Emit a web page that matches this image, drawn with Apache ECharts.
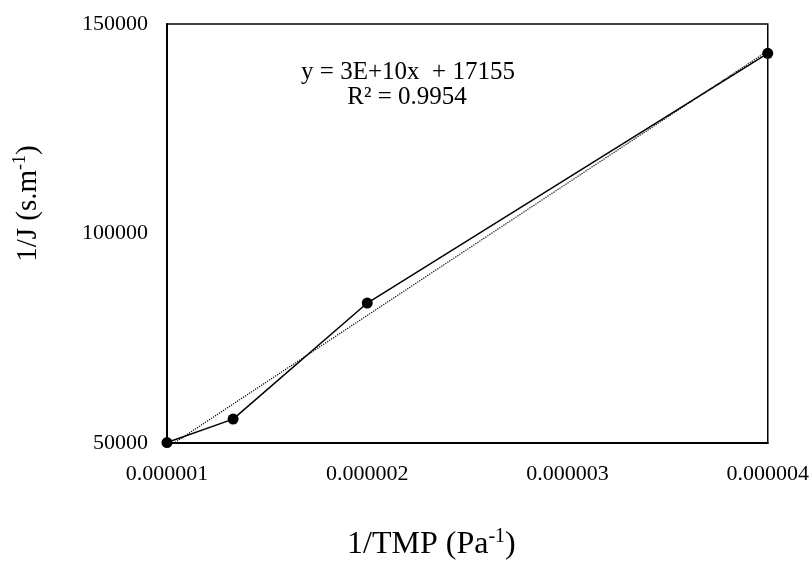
<!DOCTYPE html>
<html>
<head>
<meta charset="utf-8">
<script src="https://cdn.jsdelivr.net/npm/echarts@6/dist/echarts.min.js"></script>
<style>
  html, body { margin: 0; padding: 0; background: #fff; }
  #main { width: 812px; height: 566px; }
</style>
</head>
<body>
<div id="main"></div>
<script>
// measured points: 1/TMP (Pa^-1) vs 1/J (s.m^-1)
var invTMP = [0.000001, 0.00000133, 0.000002, 0.000004];
var invJ = [50100, 55700, 83400, 143000];
var xTicks = [0.000001, 0.000002, 0.000003, 0.000004];
var yTicks = [50000, 100000, 150000];
var eqLine = 'y = 3E+10x  + 17155';
var r2Line = 'R² = 0.9954';

var serif = '"Liberation Serif", "Times New Roman", serif';

// linear trendline (least squares) over the points
var n = invTMP.length, mx = 0, my = 0;
for (var i = 0; i < n; i++) { mx += invTMP[i]; my += invJ[i]; }
mx /= n; my /= n;
var sxy = 0, sxx = 0;
for (var i = 0; i < n; i++) {
    sxy += (invTMP[i] - mx) * (invJ[i] - my);
    sxx += (invTMP[i] - mx) * (invTMP[i] - mx);
}
var slope = sxy / sxx, icpt = my - slope * mx;
var xFirst = invTMP[0], xLast = invTMP[n - 1];
var trend = [[xFirst, icpt + slope * xFirst], [xLast, icpt + slope * xLast]];

var pts = invTMP.map(function (x, i) { return [x, invJ[i]]; });

var chart = echarts.init(document.getElementById('main'));
var option = {
    animation: false,
    backgroundColor: '#fff',
    grid: {
        left: 167, right: 44, top: 24, bottom: 120,
        show: true,
        borderColor: '#000',
        borderWidth: 1.5
    },
    xAxis: {
        type: 'value',
        min: xTicks[0],
        max: xTicks[xTicks.length - 1],
        interval: xTicks[1] - xTicks[0],
        axisLine: { show: true, onZero: false, lineStyle: { color: '#000', width: 2 } },
        axisTick: { show: false },
        splitLine: { show: false },
        axisLabel: {
            margin: 20,
            color: '#000',
            fontFamily: serif,
            fontSize: 22,
            formatter: function (v) { return v.toFixed(6); }
        },
        name: '{m|1/TMP (Pa}{s|-1}{m|)}',
        nameLocation: 'middle',
        nameGap: 84,
        nameTextStyle: {
            padding: [0, 72, 0, 0],
            rich: {
                m: { fontFamily: serif, fontSize: 32, color: '#000', lineHeight: 36 },
                s: { fontFamily: serif, fontSize: 20, color: '#000', lineHeight: 18, verticalAlign: 'top' }
            }
        }
    },
    yAxis: {
        type: 'value',
        min: yTicks[0],
        max: yTicks[yTicks.length - 1],
        interval: yTicks[1] - yTicks[0],
        axisLine: { show: true, onZero: false, lineStyle: { color: '#000', width: 2 } },
        axisTick: { show: false },
        splitLine: { show: false },
        axisLabel: {
            margin: 19,
            color: '#000',
            fontFamily: serif,
            fontSize: 22,
            formatter: function (v) { return String(v); }
        },
        name: '{m|1/J (s.m}{s|-1}{m|)}',
        nameLocation: 'middle',
        nameRotate: 90,
        nameGap: 122,
        nameTextStyle: {
            padding: [0, 0, 0, 60],
            rich: {
                m: { fontFamily: serif, fontSize: 29, color: '#000', lineHeight: 34 },
                s: { fontFamily: serif, fontSize: 18, color: '#000', lineHeight: 17, verticalAlign: 'top' }
            }
        }
    },
    graphic: [
        {
            type: 'text', x: 408, y: 72, z: 10,
            style: { text: eqLine, font: '25px ' + serif, fill: '#000', align: 'center', verticalAlign: 'middle' }
        },
        {
            type: 'text', x: 407, y: 97, z: 10,
            style: { text: r2Line, font: '25px ' + serif, fill: '#000', align: 'center', verticalAlign: 'middle' }
        }
    ],
    series: [
        {
            name: 'trend',
            type: 'line',
            data: trend,
            showSymbol: false,
            symbol: 'none',
            lineStyle: { color: '#000', width: 1.2, type: 'dotted' },
            z: 2
        },
        {
            name: '1/J',
            type: 'line',
            data: pts,
            symbol: 'circle',
            symbolSize: 11,
            itemStyle: { color: '#000' },
            lineStyle: { color: '#000', width: 1.5 },
            z: 3
        }
    ]
};
chart.setOption(option);
</script>
</body>
</html>
